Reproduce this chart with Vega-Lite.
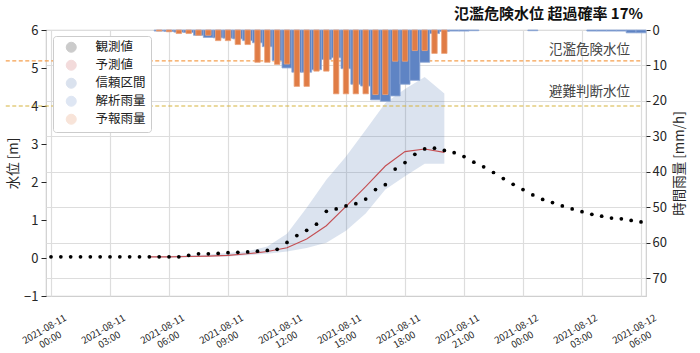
{
  "$schema": "https://vega.github.io/schema/vega-lite/v6.json",
  "width": 600,
  "height": 266,
  "autosize": "none",
  "padding": {"left": 46, "top": 30, "right": 54, "bottom": 57},
  "title": {"text": "氾濫危険水位 超過確率 17%", "anchor": "end", "frame": "group", "fontSize": 15, "fontWeight": "bold", "font": "Noto Sans CJK JP", "color": "#111111", "offset": 2, "dx": -3},
  "config": {
    "font": "Noto Sans CJK JP",
    "view": {"stroke": "#cfcfcf", "strokeWidth": 1.2},
    "axis": {"domain": false, "labelOverlap": false, "labelColor": "#262626", "titleColor": "#262626", "tickColor": "#262626", "gridColor": "#dddddd", "gridWidth": 1.2, "titleFontWeight": "normal", "labelFont": "Noto Sans CJK JP", "titleFont": "Noto Sans CJK JP"},
    "axisY": {"labelOverlap": false},
    "axisQuantitative": {"labelOverlap": false}
  },
  "datasets": {
    "obs": [
      {"t": "2021-08-11T00:00", "v": 0.03}, {"t": "2021-08-11T00:30", "v": 0.03}, {"t": "2021-08-11T01:00", "v": 0.03}, {"t": "2021-08-11T01:30", "v": 0.03},
      {"t": "2021-08-11T02:00", "v": 0.03}, {"t": "2021-08-11T02:30", "v": 0.03}, {"t": "2021-08-11T03:00", "v": 0.03}, {"t": "2021-08-11T03:30", "v": 0.03},
      {"t": "2021-08-11T04:00", "v": 0.03}, {"t": "2021-08-11T04:30", "v": 0.03}, {"t": "2021-08-11T05:00", "v": 0.03}, {"t": "2021-08-11T05:30", "v": 0.03},
      {"t": "2021-08-11T06:00", "v": 0.03}, {"t": "2021-08-11T06:30", "v": 0.03}, {"t": "2021-08-11T07:00", "v": 0.07}, {"t": "2021-08-11T07:30", "v": 0.11},
      {"t": "2021-08-11T08:00", "v": 0.11}, {"t": "2021-08-11T08:30", "v": 0.12}, {"t": "2021-08-11T09:00", "v": 0.14}, {"t": "2021-08-11T09:30", "v": 0.15},
      {"t": "2021-08-11T10:00", "v": 0.16}, {"t": "2021-08-11T10:30", "v": 0.18}, {"t": "2021-08-11T11:00", "v": 0.2}, {"t": "2021-08-11T11:30", "v": 0.23},
      {"t": "2021-08-11T12:00", "v": 0.41}, {"t": "2021-08-11T12:30", "v": 0.59}, {"t": "2021-08-11T13:00", "v": 0.73}, {"t": "2021-08-11T13:30", "v": 0.89},
      {"t": "2021-08-11T14:00", "v": 1.23}, {"t": "2021-08-11T14:30", "v": 1.29}, {"t": "2021-08-11T15:00", "v": 1.37}, {"t": "2021-08-11T15:30", "v": 1.43},
      {"t": "2021-08-11T16:00", "v": 1.55}, {"t": "2021-08-11T16:30", "v": 1.8}, {"t": "2021-08-11T17:00", "v": 1.93}, {"t": "2021-08-11T17:30", "v": 2.34},
      {"t": "2021-08-11T18:00", "v": 2.51}, {"t": "2021-08-11T18:30", "v": 2.73}, {"t": "2021-08-11T19:00", "v": 2.87}, {"t": "2021-08-11T19:30", "v": 2.89},
      {"t": "2021-08-11T20:00", "v": 2.83}, {"t": "2021-08-11T20:30", "v": 2.77}, {"t": "2021-08-11T21:00", "v": 2.67}, {"t": "2021-08-11T21:30", "v": 2.52},
      {"t": "2021-08-11T22:00", "v": 2.4}, {"t": "2021-08-11T22:30", "v": 2.25}, {"t": "2021-08-11T23:00", "v": 2.09}, {"t": "2021-08-11T23:30", "v": 1.94},
      {"t": "2021-08-12T00:00", "v": 1.8}, {"t": "2021-08-12T00:30", "v": 1.66}, {"t": "2021-08-12T01:00", "v": 1.54}, {"t": "2021-08-12T01:30", "v": 1.46},
      {"t": "2021-08-12T02:00", "v": 1.37}, {"t": "2021-08-12T02:30", "v": 1.29}, {"t": "2021-08-12T03:00", "v": 1.22}, {"t": "2021-08-12T03:30", "v": 1.15},
      {"t": "2021-08-12T04:00", "v": 1.1}, {"t": "2021-08-12T04:30", "v": 1.05}, {"t": "2021-08-12T05:00", "v": 1.03}, {"t": "2021-08-12T05:30", "v": 0.99},
      {"t": "2021-08-12T06:00", "v": 0.95}
    ],
    "pred": [
      {"t": "2021-08-11T05:00", "v": 0.03, "lo": 0.01, "hi": 0.05},
      {"t": "2021-08-11T06:00", "v": 0.03, "lo": 0.01, "hi": 0.05},
      {"t": "2021-08-11T07:00", "v": 0.04, "lo": 0.02, "hi": 0.07},
      {"t": "2021-08-11T08:00", "v": 0.05, "lo": 0.03, "hi": 0.09},
      {"t": "2021-08-11T09:00", "v": 0.07, "lo": 0.04, "hi": 0.13},
      {"t": "2021-08-11T10:00", "v": 0.11, "lo": 0.07, "hi": 0.18},
      {"t": "2021-08-11T11:00", "v": 0.17, "lo": 0.11, "hi": 0.3},
      {"t": "2021-08-11T12:00", "v": 0.27, "lo": 0.17, "hi": 0.64},
      {"t": "2021-08-11T13:00", "v": 0.5, "lo": 0.26, "hi": 1.32},
      {"t": "2021-08-11T14:00", "v": 0.85, "lo": 0.4, "hi": 2.06},
      {"t": "2021-08-11T15:00", "v": 1.36, "lo": 0.72, "hi": 2.67},
      {"t": "2021-08-11T16:00", "v": 1.88, "lo": 1.17, "hi": 3.37},
      {"t": "2021-08-11T17:00", "v": 2.42, "lo": 1.8, "hi": 4.08},
      {"t": "2021-08-11T18:00", "v": 2.8, "lo": 2.15, "hi": 4.45},
      {"t": "2021-08-11T19:00", "v": 2.87, "lo": 2.48, "hi": 4.76},
      {"t": "2021-08-11T20:00", "v": 2.78, "lo": 2.48, "hi": 4.33}
    ],
    "rain": [
      {"t": "2021-08-11T05:30", "ana": 0.3, "fc": 0.3},
      {"t": "2021-08-11T06:00", "ana": 0.4, "fc": 0.5},
      {"t": "2021-08-11T06:30", "ana": 0.6, "fc": 1.0},
      {"t": "2021-08-11T07:00", "ana": 0.7, "fc": 1.0},
      {"t": "2021-08-11T07:30", "ana": 1.5, "fc": 1.5},
      {"t": "2021-08-11T08:00", "ana": 2.1, "fc": 1.5},
      {"t": "2021-08-11T08:30", "ana": 2.2, "fc": 3.0},
      {"t": "2021-08-11T09:00", "ana": 2.3, "fc": 3.0},
      {"t": "2021-08-11T09:30", "ana": 2.5, "fc": 4.1},
      {"t": "2021-08-11T10:00", "ana": 3.0, "fc": 4.1},
      {"t": "2021-08-11T10:30", "ana": 3.6, "fc": 9.1},
      {"t": "2021-08-11T11:00", "ana": 4.7, "fc": 9.1},
      {"t": "2021-08-11T11:30", "ana": 8.6, "fc": 9.7},
      {"t": "2021-08-11T12:00", "ana": 10.7, "fc": 9.6},
      {"t": "2021-08-11T12:30", "ana": 11.9, "fc": 15.9},
      {"t": "2021-08-11T13:00", "ana": 11.9, "fc": 15.9},
      {"t": "2021-08-11T13:30", "ana": 11.2, "fc": 11.6},
      {"t": "2021-08-11T14:00", "ana": 8.3, "fc": 11.6},
      {"t": "2021-08-11T14:30", "ana": 7.8, "fc": 18.0},
      {"t": "2021-08-11T15:00", "ana": 10.9, "fc": 18.0},
      {"t": "2021-08-11T15:30", "ana": 15.3, "fc": 18.0},
      {"t": "2021-08-11T16:00", "ana": 15.8, "fc": 18.0},
      {"t": "2021-08-11T16:30", "ana": 19.7, "fc": 18.2},
      {"t": "2021-08-11T17:00", "ana": 20.1, "fc": 18.2},
      {"t": "2021-08-11T17:30", "ana": 18.6, "fc": 8.8},
      {"t": "2021-08-11T18:00", "ana": 15.3, "fc": 8.8},
      {"t": "2021-08-11T18:30", "ana": 14.2, "fc": 5.8},
      {"t": "2021-08-11T19:00", "ana": 9.1, "fc": 5.8},
      {"t": "2021-08-11T19:30", "ana": 1.0, "fc": 6.6},
      {"t": "2021-08-11T20:00", "ana": 0.4, "fc": 6.6},
      {"t": "2021-08-11T20:30", "ana": 0.3, "fc": null},
      {"t": "2021-08-11T21:00", "ana": 0.3, "fc": null},
      {"t": "2021-08-11T21:30", "ana": 0.2, "fc": null},
      {"t": "2021-08-12T00:30", "ana": 0.2, "fc": null},
      {"t": "2021-08-12T03:30", "ana": 0.3, "fc": null},
      {"t": "2021-08-12T04:00", "ana": 0.3, "fc": null},
      {"t": "2021-08-12T04:30", "ana": 0.3, "fc": null},
      {"t": "2021-08-12T05:00", "ana": 0.3, "fc": null},
      {"t": "2021-08-12T05:30", "ana": 0.8, "fc": null},
      {"t": "2021-08-12T06:00", "ana": 0.8, "fc": null}
    ],
    "levels": [
      {"name": "氾濫危険水位", "level": 5.19},
      {"name": "避難判断水位", "level": 4.0}
    ]
  },
  "layer": [
    {
      "layer": [
        {
          "data": {"name": "pred"},
          "mark": {"type": "area", "opacity": 0.2},
          "encoding": {
            "x": {"field": "t", "type": "temporal",
              "scale": {"domain": [{"year": 2021, "month": 8, "date": 11, "hours": 0}, {"year": 2021, "month": 8, "date": 12, "hours": 6}], "nice": false},
              "axis": {"values": [
                  {"year": 2021, "month": 8, "date": 11, "hours": 0}, {"year": 2021, "month": 8, "date": 11, "hours": 3}, {"year": 2021, "month": 8, "date": 11, "hours": 6},
                  {"year": 2021, "month": 8, "date": 11, "hours": 9}, {"year": 2021, "month": 8, "date": 11, "hours": 12}, {"year": 2021, "month": 8, "date": 11, "hours": 15},
                  {"year": 2021, "month": 8, "date": 11, "hours": 18}, {"year": 2021, "month": 8, "date": 11, "hours": 21}, {"year": 2021, "month": 8, "date": 12, "hours": 0},
                  {"year": 2021, "month": 8, "date": 12, "hours": 3}, {"year": 2021, "month": 8, "date": 12, "hours": 6}],
                "grid": true, "ticks": false, "title": null,
                "labelExpr": "[timeFormat(datum.value, '%Y-%m-%d'), timeFormat(datum.value, '%H:%M')]",
                "labelAngle": -30, "labelAlign": "center", "labelBaseline": "middle", "labelPadding": 33, "labelOffset": -7,
                "labelFontSize": 9.5, "labelLineHeight": 12, "labelOverlap": false, "labelBound": false, "labelFlush": false}},
            "y": {"field": "lo", "type": "quantitative",
              "scale": {"domain": [-1, 6], "nice": false, "zero": false},
              "axis": {"orient": "left", "title": "水位 [m]", "values": [-1, 0, 1, 2, 3, 4, 5, 6], "tickCount": 8, "format": "d", "grid": false, "labelOverlap": false, "tickSize": 5, "labelPadding": 3, "labelFontSize": 13, "titleFontSize": 13.5, "titlePadding": 3}},
            "y2": {"field": "hi"},
            "color": {"datum": "信頼区間",
              "scale": {"domain": ["観測値", "予測値", "信頼区間", "解析雨量", "予報雨量"], "range": ["#000000", "#c44e52", "#4c72b0", "#5f84c4", "#e07c45"]},
              "legend": {"orient": "none", "legendX": 7, "legendY": 6, "title": null, "padding": 5, "fillColor": "white", "strokeColor": "#cccccc", "cornerRadius": 3,
                "symbolSize": 100, "symbolStrokeWidth": 1, "symbolOffset": 7, "labelOffset": 18, "rowPadding": 3, "labelFontSize": 12.5, "labelFont": "Noto Sans CJK JP", "labelColor": "#222222", "labelLimit": 200,
                "encode": {"symbols": {"update": {
                  "shape": {"value": {"expr": "datum.value === '観測値' ? 'M-0.4,0A0.4,0.4 0 1,0 0.4,0A0.4,0.4 0 1,0 -0.4,0Z' : datum.value === '予測値' ? 'M-2.5,-0.12H2.5V0.12H-2.5Z' : 'M-2.5,-0.9H2.5V0.9H-2.5Z'"}},
                  "fill": {"value": {"expr": "datum.value === '観測値' ? '#000000' : datum.value === '予測値' ? '#c44e52' : datum.value === '信頼区間' ? '#dbe3ef' : datum.value === '解析雨量' ? '#5f84c4' : '#e07c45'"}},
                  "stroke": {"value": {"expr": "datum.value === '観測値' ? 'transparent' : datum.value === '予測値' ? 'transparent' : datum.value === '信頼区間' ? '#dbe3ef' : datum.value === '解析雨量' ? '#8fa8d6' : '#eba27a'"}},
                  "opacity": {"value": 1},
                  "fillOpacity": {"value": 1},
                  "strokeOpacity": {"value": 1}
                }}}
              }
            }
          }
        },
        {
          "data": {"name": "levels"},
          "mark": {"type": "rule", "strokeDash": [4, 2.5], "strokeWidth": 1.2, "clip": false},
          "encoding": {
            "x": {"datum": {"year": 2021, "month": 8, "date": 10, "hours": 21, "minutes": 42}, "type": "temporal"},
            "x2": {"datum": {"year": 2021, "month": 8, "date": 12, "hours": 6}},
            "y": {"field": "level", "type": "quantitative"},
            "stroke": {"condition": {"test": "datum.name === '氾濫危険水位'", "value": "#f5a04f"}, "value": "#d6b43e"}
          }
        },
        {
          "data": {"name": "levels"},
          "transform": [{"filter": "datum.name === '氾濫危険水位'"}],
          "mark": {"type": "text", "align": "right", "baseline": "middle", "dx": -11, "dy": -11, "fontSize": 13.5, "color": "#444444"},
          "encoding": {
            "x": {"datum": {"year": 2021, "month": 8, "date": 12, "hours": 6}, "type": "temporal"},
            "y": {"field": "level", "type": "quantitative"},
            "text": {"field": "name"}
          }
        },
        {
          "data": {"name": "levels"},
          "transform": [{"filter": "datum.name === '避難判断水位'"}],
          "mark": {"type": "text", "align": "right", "baseline": "middle", "dx": -11, "dy": -14, "fontSize": 13.5, "color": "#444444"},
          "encoding": {
            "x": {"datum": {"year": 2021, "month": 8, "date": 12, "hours": 6}, "type": "temporal"},
            "y": {"field": "level", "type": "quantitative"},
            "text": {"field": "name"}
          }
        },
        {
          "data": {"name": "pred"},
          "mark": {"type": "line", "strokeWidth": 1.1},
          "encoding": {
            "x": {"field": "t", "type": "temporal"},
            "y": {"field": "v", "type": "quantitative"},
            "color": {"datum": "予測値"}
          }
        },
        {
          "data": {"name": "obs"},
          "mark": {"type": "point", "filled": true, "size": 14, "opacity": 1},
          "encoding": {
            "x": {"field": "t", "type": "temporal"},
            "y": {"field": "v", "type": "quantitative"},
            "color": {"datum": "観測値"}
          }
        }
      ]
    },
    {
      "data": {"name": "rain"},
      "layer": [
        {
          "mark": {"type": "bar", "size": 10, "stroke": "#8fa8d6", "strokeWidth": 0.8},
          "encoding": {
            "x": {"field": "t", "type": "temporal"},
            "y": {"field": "ana", "type": "quantitative",
              "scale": {"domain": [0, 75], "reverse": true, "nice": false, "zero": true},
              "axis": {"orient": "right", "title": "時間雨量 [mm/h]", "values": [0, 10, 20, 30, 40, 50, 60, 70], "tickCount": 8, "format": "d", "grid": true, "labelOverlap": false, "tickSize": 4, "labelPadding": 2, "labelFontSize": 13, "titleFontSize": 13.5, "titleAngle": 270, "titleBaseline": "top", "titlePadding": 6}},
            "color": {"datum": "解析雨量"}
          }
        },
        {
          "mark": {"type": "bar", "size": 5.4, "stroke": "#eba27a", "strokeWidth": 0.8},
          "encoding": {
            "x": {"field": "t", "type": "temporal"},
            "y": {"field": "fc", "type": "quantitative"},
            "color": {"datum": "予報雨量"}
          }
        }
      ]
    }
  ],
  "resolve": {"scale": {"y": "independent"}, "axis": {"y": "independent"}}
}
